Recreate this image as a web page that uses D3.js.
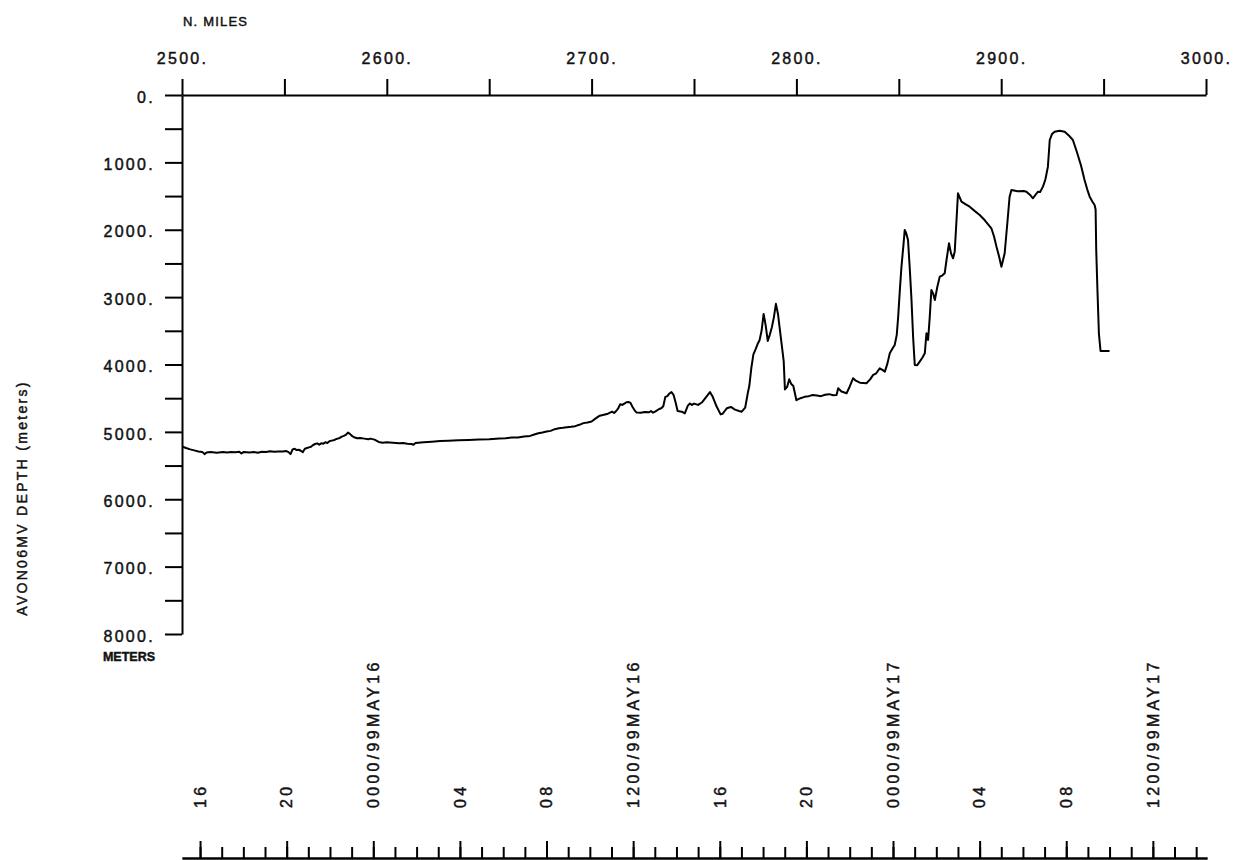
<!DOCTYPE html>
<html><head><meta charset="utf-8">
<script src="https://cdn.jsdelivr.net/npm/d3@7"></script>
<style>
body{margin:0;background:#fff;}
svg{display:block;}
text{font-family:"Liberation Sans",Arial,sans-serif;fill:#111;stroke:#111;stroke-width:0.45px;}
</style></head><body>
<svg id="c" width="1238" height="860"></svg>
<script>
// ---- data ----
const miles = [2500.3,2502,2504,2506,2508,2510,2511,2512,2514,2517,2520,2522,2524,2526,2528,2529,2530,2533,2535,2537,2539,2541,2543,2545,2547,2549,2551,2552,2553,2554,2555,2556,2557,2558,2559,2560,2561,2562,2563,2564,2565,2566,2567,2568,2569,2570,2571,2572,2573,2574,2575,2576,2577,2578,2579,2580,2581,2582,2583,2584,2585.5,2587,2589,2591,2592,2594,2596,2598,2600,2603,2606,2608,2610,2612,2613,2614,2618,2622,2626,2630,2635,2640,2645,2650,2655,2658,2661,2664,2667,2670,2672,2674,2676,2678,2680,2682,2684,2686,2688,2690,2692,2694,2696,2698,2700,2702,2704,2706,2708,2710,2711,2712,2713,2714,2715,2716,2717,2718,2719,2720,2721,2722,2724,2726,2728,2729,2730,2731,2733,2734,2735,2736,2737,2738,2739,2740,2741,2742,2744,2745.5,2747,2748,2749,2750,2752,2754,2756,2757.8,2759,2761,2763,2764,2765,2766,2768,2770,2772,2773.3,2775,2776.3,2777,2778,2779,2780,2781,2782,2783,2784,2785,2786,2787,2788,2789,2790,2791,2792,2793,2793.8,2794.4,2795.5,2796.5,2797.5,2798.5,2800,2802,2804,2806,2808,2810,2812,2814,2816,2818,2819.6,2820.4,2822,2824.5,2826,2827.7,2829,2831,2834.2,2836,2837.5,2839,2840.7,2842,2843.2,2844.5,2845.6,2847,2848.0,2849,2849.7,2850.5,2851.3,2852.2,2852.9,2853.6,2854.5,2855.4,2856.2,2857,2857.8,2859,2860.2,2861.5,2862.7,2863.5,2864.3,2865.1,2865.9,2866.8,2867.6,2868.8,2870.0,2871.2,2872.4,2873.3,2874.5,2875.5,2876.5,2877.3,2878.1,2878.9,2880.6,2882.5,2884.6,2887,2889.5,2892,2895.2,2896.5,2897.7,2899,2900.1,2901.7,2903,2904.1,2905.0,2908,2911,2912.3,2914,2915.5,2917,2918.0,2919,2920.4,2921.6,2922.8,2923.3,2923.7,2924.8,2926.1,2928.5,2931.0,2933,2935.0,2937,2939,2940.7,2942,2943.2,2944.5,2945.6,2946.1,2946.4,2947,2947.7,2948.5,2950,2952.9];
const depth = [5220,5240,5260,5275,5290,5300,5330,5305,5300,5310,5300,5305,5298,5302,5295,5320,5300,5305,5298,5310,5295,5300,5288,5295,5290,5292,5285,5300,5330,5260,5250,5270,5265,5280,5300,5250,5240,5230,5220,5195,5180,5170,5190,5170,5175,5155,5165,5140,5130,5125,5110,5100,5090,5070,5060,5045,5010,5030,5060,5080,5095,5090,5100,5110,5100,5115,5150,5160,5155,5160,5170,5165,5175,5180,5190,5165,5155,5145,5135,5130,5125,5120,5115,5110,5100,5095,5085,5085,5070,5060,5040,5020,5010,4995,4985,4960,4945,4940,4930,4925,4915,4895,4870,4860,4845,4800,4760,4745,4730,4700,4720,4690,4650,4590,4600,4580,4560,4555,4570,4630,4680,4714,4715,4705,4710,4690,4715,4700,4660,4650,4620,4480,4470,4430,4410,4450,4560,4690,4700,4725,4610,4580,4600,4580,4600,4560,4480,4410,4470,4620,4740,4730,4690,4650,4630,4670,4690,4700,4640,4420,4320,4050,3850,3780,3700,3640,3500,3250,3420,3650,3560,3450,3300,3100,3250,3500,3750,3950,4370,4330,4220,4290,4320,4530,4500,4480,4470,4452,4460,4470,4450,4440,4455,4452,4353,4400,4427,4330,4204,4240,4270,4278,4220,4155,4130,4056,4080,4106,3980,3833,3760,3710,3560,3290,2900,2548,2250,2003,2050,2152,2600,3042,3600,4007,4010,3958,3900,3833,3537,3636,3300,2894,2950,3042,2850,2696,2680,2646,2449,2201,2350,2424,2325,1900,1459,1583,1620,1658,1720,1781,1860,1978,2100,2251,2400,2548,2349,1900,1509,1410,1430,1425,1435,1480,1533,1470,1435,1440,1360,1250,1064,850,668,580,545,530,545,600,668,850,1050,1261,1400,1509,1580,1632,1700,2300,2900,3537,3800,3800,3800];

const mileTicks = [2500,2550,2600,2650,2700,2750,2800,2850,2900,2950,3000];
const mileLabels = ["2500.","2600.","2700.","2800.","2900.","3000."];
const depthTicks = [0,500,1000,1500,2000,2500,3000,3500,4000,4500,5000,5500,6000,6500,7000,7500,8000];
const depthLabels = ["0.","1000.","2000.","3000.","4000.","5000.","6000.","7000.","8000."];
const timeLabels = ["16","20","0000/99MAY16","04","08","1200/99MAY16","16","20","0000/99MAY17","04","08","1200/99MAY17"];

// ---- scales ----
const svg = d3.select("#c");
const x = d3.scaleLinear().domain([2500, 3000]).range([182, 1206]);
const y = d3.scaleLinear().domain([0, 8000]).range([95, 634]);
const t = d3.scaleTime()
  .domain([new Date(1999,4,15,15,10), new Date(1999,4,17,14,30)])
  .range([182, 1207]);

// ---- top axis (N. MILES) ----
const topAxis = d3.axisTop(x).tickValues(mileTicks).tickSize(16).tickSizeOuter(0).tickPadding(15)
  .tickFormat(d => { const i = mileLabels.indexOf(d.toFixed(0) + "."); return i >= 0 ? mileLabels[i] : ""; });
const gTop = svg.append("g").attr("transform", "translate(0,95)").call(topAxis);
gTop.selectAll("path,line").attr("stroke", "#000").attr("stroke-width", 2);
gTop.selectAll("text").attr("font-size", 16).attr("letter-spacing", "2.3px").attr("fill", "#111");

svg.append("text").attr("x", 183).attr("y", 26).attr("font-size", 13)
  .attr("letter-spacing", "1.2px").text("N. MILES");

// ---- left axis (depth) ----
const leftAxis = d3.axisLeft(y).tickValues(depthTicks).tickSize(17).tickSizeOuter(0).tickPadding(10)
  .tickFormat(d => d % 1000 === 0 ? depthLabels[d / 1000] : "");
const gLeft = svg.append("g").attr("transform", "translate(182,0)").call(leftAxis);
gLeft.selectAll("path,line").attr("stroke", "#000").attr("stroke-width", 2);
gLeft.selectAll("text").attr("font-size", 16).attr("letter-spacing", "2.3px").attr("dy", "0.45em").attr("fill", "#111");

svg.append("text").attr("x", 155).attr("y", 661).attr("text-anchor", "end")
  .attr("font-size", 12.5).attr("font-weight", "bold").text("METERS");

svg.append("text").attr("transform", "translate(27,498) rotate(-90)").attr("text-anchor", "middle")
  .attr("font-size", 14).attr("letter-spacing", "2.3px").text("AVON06MV DEPTH (meters)");

// ---- bottom time axis ----
const hours = d3.timeHour.range(new Date(1999,4,15,16), new Date(1999,4,17,15));
const majors = hours.filter((d, i) => i % 4 === 0);
const gMinor = svg.append("g").attr("transform", "translate(0,858)")
  .call(d3.axisTop(t).tickValues(hours).tickSize(11).tickSizeOuter(0).tickFormat(""));
const gMajor = svg.append("g").attr("transform", "translate(0,858)")
  .call(d3.axisTop(t).tickValues(majors).tickSize(17).tickSizeOuter(0).tickFormat(""));
[gMinor, gMajor].forEach(g => g.selectAll("path,line").attr("stroke", "#000").attr("stroke-width", 2));

svg.append("g").selectAll("text").data(majors).join("text")
  .attr("transform", d => `translate(${t(d)},808) rotate(-90)`)
  .attr("dy", "0.36em").attr("text-anchor", "start")
  .attr("font-size", 16).attr("letter-spacing", "3.3px")
  .text((d, i) => timeLabels[i]);

// ---- depth profile line ----
const pts = miles.map((m, i) => [m, depth[i]]);
svg.append("path").datum(pts)
  .attr("fill", "none").attr("stroke", "#000").attr("stroke-width", 2).attr("stroke-linejoin", "round")
  .attr("d", d3.line().x(d => x(d[0])).y(d => y(d[1])));
</script>
</body></html>
